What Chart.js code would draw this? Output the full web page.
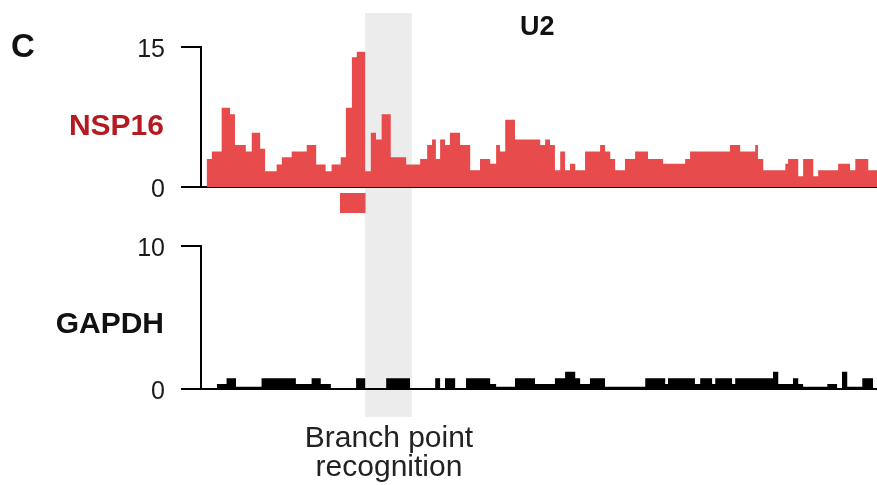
<!DOCTYPE html>
<html>
<head>
<meta charset="utf-8">
<script src="https://cdn.jsdelivr.net/npm/chart.js@4.4.1/dist/chart.umd.min.js"></script>
<style>
  html, body { margin: 0; padding: 0; background: #fff; }
  body {
    width: 877px; height: 485px; position: relative; overflow: hidden;
    font-family: 'Liberation Sans', Arial, sans-serif; color: #111;
  }
  canvas { position: absolute; left: 0; }
  #nspChart { top: 0; }
  #gapChart { top: 222px; }
  .lbl { position: absolute; white-space: nowrap; }
  #panel { left: 11px; top: 29px; font-size: 33px; font-weight: bold; line-height: 33px; }
  #gene { left: 520px; top: 13px; font-size: 27px; font-weight: bold; line-height: 27px; }
  .track { left: 0; width: 164px; text-align: right; font-size: 30px; font-weight: bold; line-height: 30px; }
  #nspName { top: 110px; color: #b51a20; }
  #gapName { top: 308px; }
  #branch { left: 289px; width: 200px; top: 422px; text-align: center; font-size: 30px; line-height: 29px; color: #222; }
</style>
</head>
<body>
<canvas id="nspChart" width="877" height="222"></canvas>
<canvas id="gapChart" width="877" height="263"></canvas>
<div class="lbl" id="panel">C</div>
<div class="lbl" id="gene">U2</div>
<div class="lbl track" id="nspName">NSP16</div>
<div class="lbl track" id="gapName">GAPDH</div>
<div class="lbl" id="branch">Branch point<br>recognition</div>
<script>
// Positions along U2 in nt (start of each step) and read counts
const xMax = 193.1;

const nspStart = [1.6, 3.1, 5.9, 8.3, 9.7, 12.8, 14.5, 16.9, 18.3, 21.6, 23.1, 25.9, 30.2, 32.9, 35.6,
    37.3, 39.9, 41.4, 43.1, 44.5, 46.9, 48.5, 50.0, 51.6, 54.2, 58.6, 62.6, 64.6, 66.0, 67.1,
    68.3, 69.7, 71.1, 74.0, 76.9, 79.7, 82.6, 84.3, 85.4, 86.9, 89.7, 96.9, 98.3, 99.7, 101.1,
    102.6, 104.0, 105.4, 106.9, 109.7, 114.0, 115.4, 116.9, 118.3, 121.1, 124.0, 127.7, 132.0, 138.3, 139.7,
    151.1, 154.0, 158.3, 159.1, 160.6, 166.9, 167.7, 170.6, 172.0, 174.9, 176.3, 182.0, 185.4, 186.9, 190.6];
const nspValue = [3.0, 3.8, 8.5, 7.8, 4.5, 3.8, 5.8, 4.1, 1.7, 2.4, 3.2, 3.8, 4.5, 2.4, 1.7,
    2.4, 3.2, 8.5, 13.9, 14.5, 1.7, 5.8, 5.1, 7.8, 3.2, 2.4, 3.0, 4.5, 5.1, 3.0,
    5.1, 4.5, 5.8, 4.5, 1.8, 3.0, 2.5, 4.5, 3.8, 7.2, 5.1, 4.5, 5.1, 4.5, 1.8,
    3.8, 1.8, 2.5, 1.8, 3.8, 4.5, 3.8, 3.0, 1.8, 3.0, 3.8, 3.0, 2.5, 3.0, 3.8,
    4.5, 3.8, 4.5, 3.0, 1.8, 2.5, 3.0, 1.15, 3.0, 1.15, 1.8, 2.5, 1.8, 3.0, 1.8];
const nspEnd = 193.1;
const nspTicks = [0, 15];

const gapStart = [4.5, 7.3, 10.0, 17.3, 27.1, 31.6, 34.2, 37.1, 44.3, 46.9, 52.9, 59.7, 66.9, 68.3, 69.7,
    72.6, 75.7, 82.6, 84.3, 89.7, 95.4, 101.1, 104.0, 106.9, 108.3, 111.1, 115.4, 126.9, 132.6, 133.4,
    141.1, 142.6, 146.0, 146.9, 151.7, 152.6, 163.4, 164.9, 169.1, 170.6, 172.0, 178.9, 181.7, 183.1, 184.6,
    188.9];
const gapValue = [0.35, 0.75, 0.15, 0.75, 0.35, 0.75, 0.35, 0, 0.75, 0, 0.75, 0, 0.75, 0, 0.75,
    0, 0.75, 0.35, 0.15, 0.75, 0.35, 0.75, 1.2, 0.75, 0.35, 0.75, 0.15, 0.75, 0.35, 0.75,
    0.35, 0.75, 0.35, 0.75, 0.35, 0.75, 1.2, 0.35, 0.75, 0.35, 0.15, 0.35, 0, 1.2, 0.15,
    0.75];
const gapEnd = 192.0;
const gapTicks = [0, 10];

// Shaded branch point region and NSP16 site mark (nt)
const branchRegion = [46.9, 60.2];
const nspSite = [39.7, 47.0];

const RED = '#e84b4c';

// step points: each value holds until the next start
function toSteps(starts, values, end) {
    const pts = starts.map((s, i) => ({ x: s, y: values[i] }));
    pts.push({ x: end, y: values[values.length - 1] });
    return pts;
}

const bandPlugin = {
    id: 'band',
    beforeDraw(chart, args, opts) {
        const x = chart.scales.x;
        const x1 = x.getPixelForValue(branchRegion[0]);
        const x2 = x.getPixelForValue(branchRegion[1]);
        const ctx = chart.ctx;
        ctx.save();
        ctx.fillStyle = '#ececec';
        ctx.fillRect(x1, opts.top, x2 - x1, chart.height - opts.top - opts.cut);
        ctx.restore();
    }
};

const sitePlugin = {
    id: 'site',
    afterDatasetsDraw(chart) {
        const x = chart.scales.x;
        const x1 = x.getPixelForValue(nspSite[0]);
        const x2 = x.getPixelForValue(nspSite[1]);
        const y0 = chart.chartArea.bottom + 6;
        const ctx = chart.ctx;
        ctx.save();
        ctx.fillStyle = RED;
        ctx.fillRect(x1, y0, x2 - x1, 20);
        ctx.restore();
    }
};

function trackOptions(ticks, pad) {
    return {
        responsive: false,
        animation: false,
        layout: { padding: pad },
        plugins: { legend: { display: false }, tooltip: { enabled: false } },
        scales: {
            x: {
                type: 'linear', min: 0, max: xMax,
                ticks: { display: false },
                grid: { display: false },
                border: { display: true, color: '#000', width: 2 },
                afterFit: s => { s.height = 0; }
            },
            y: {
                min: ticks[0], max: ticks[ticks.length - 1],
                afterBuildTicks: s => { s.ticks = ticks.map(v => ({ value: v })); },
                ticks: {
                    color: '#1a1a1a', padding: 16, labelOffset: 3,
                    font: { family: "'Liberation Sans', Arial, sans-serif", size: 25 }
                },
                grid: { drawOnChartArea: false, drawTicks: true, tickLength: 20, color: '#000', lineWidth: 2 },
                border: { display: true, color: '#000', width: 2 },
                afterFit: s => { s.width = 201; s.paddingTop = 0; s.paddingBottom = 0; }
            }
        }
    };
}

function trackDataset(pts, color) {
    return {
        data: pts,
        stepped: true,
        fill: 'origin',
        backgroundColor: color,
        borderWidth: 0,
        pointRadius: 0
    };
}

const nspOpts = trackOptions(nspTicks, { top: 47, bottom: 35, left: 0, right: 0 });
nspOpts.plugins.band = { top: 13, cut: 0 };
new Chart(document.getElementById('nspChart'), {
    type: 'line',
    data: { datasets: [trackDataset(toSteps(nspStart, nspValue, nspEnd), RED)] },
    options: nspOpts,
    plugins: [bandPlugin, sitePlugin]
});

const gapOpts = trackOptions(gapTicks, { top: 24, bottom: 96, left: 0, right: 0 });
gapOpts.plugins.band = { top: 0, cut: 68 };
new Chart(document.getElementById('gapChart'), {
    type: 'line',
    data: { datasets: [trackDataset(toSteps(gapStart, gapValue, gapEnd), '#000')] },
    options: gapOpts,
    plugins: [bandPlugin]
});
</script>
</body>
</html>
